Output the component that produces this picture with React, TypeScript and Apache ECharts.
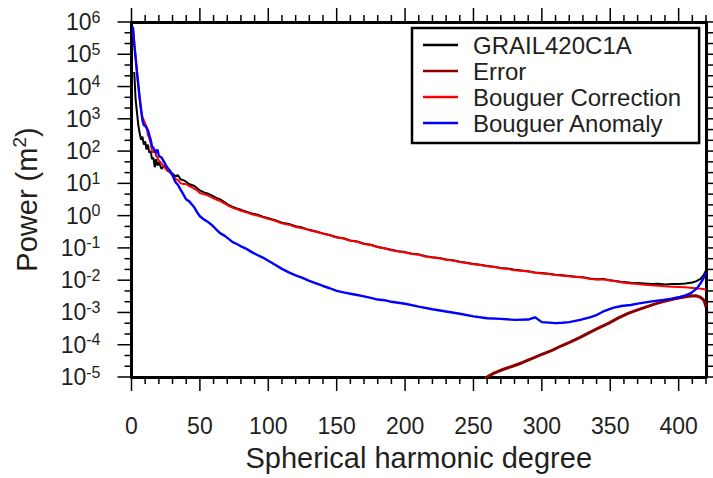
import React, { useEffect, useRef } from "react";
import * as echarts from "echarts";

const FONT = '"Liberation Sans", Helvetica, Arial, sans-serif';
const INK = "#231f20";

// Axis ranges and tick values (power axis is drawn in log10 units)
const degreeRange = [0, 420];
const degreeStep = 50;
const degreeTicks = [0, 50, 100, 150, 200, 250, 300, 350, 400];
const degreeMinorTicks = [
  10, 20, 30, 40, 60, 70, 80, 90, 110, 120, 130, 140, 160, 170, 180, 190, 210, 220, 230, 240,
  260, 270, 280, 290, 310, 320, 330, 340, 360, 370, 380, 390, 410, 420,
];
const powerRange = [-5, 6];
const powerStep = 1;
const powerExponents = [-5, -4, -3, -2, -1, 0, 1, 2, 3, 4, 5, 6];
const powerMinorOffsets = [1 / 3, 2 / 3];

const seriesNames = ["GRAIL420C1A", "Error", "Bouguer Correction", "Bouguer Anomaly"];
const seriesColors = ["#000000", "#8b0000", "#ff0000", "#0000ff"];

// [degree, log10 power (m^2)]
const grailSpectrum: [number, number][] = [
  [2, 4.45], [3, 3.6], [4, 3.2], [5, 2.8], [6, 2.55], [7, 2.35], [8, 2.45], [9, 2.2], [10, 2.3],
  [11, 2.05], [12, 2.2], [13, 1.95], [14, 2.0], [15, 1.75], [16, 1.8], [17, 1.5], [18, 1.75],
  [19, 1.55], [20, 1.65], [22, 1.45], [24, 1.55], [26, 1.4], [28, 1.35], [30, 1.3], [32, 1.22],
  [34, 1.25], [36, 1.12], [38, 1.1], [40, 1.05], [42, 0.98], [44, 0.95], [46, 0.92], [48, 0.85],
  [50, 0.78], [53, 0.72], [56, 0.68], [59, 0.62], [62, 0.55], [65, 0.5], [68, 0.42], [71, 0.33],
  [74, 0.27], [77, 0.22], [80, 0.18], [84, 0.12], [88, 0.07], [92, 0.03], [96, -0.03],
  [100, -0.08], [105, -0.14], [110, -0.22], [115, -0.26], [120, -0.33], [125, -0.37],
  [130, -0.44], [135, -0.49], [140, -0.55], [145, -0.6], [150, -0.67], [155, -0.7], [160, -0.77],
  [165, -0.8], [170, -0.87], [175, -0.9], [180, -0.97], [185, -1.01], [190, -1.06], [195, -1.1],
  [200, -1.13], [205, -1.18], [210, -1.2], [215, -1.26], [220, -1.29], [225, -1.31], [230, -1.36],
  [235, -1.38], [240, -1.43], [245, -1.46], [250, -1.5], [255, -1.52], [260, -1.56], [265, -1.58],
  [270, -1.62], [275, -1.64], [280, -1.68], [285, -1.7], [290, -1.72], [295, -1.76], [300, -1.78],
  [305, -1.8], [310, -1.83], [315, -1.85], [320, -1.87], [325, -1.89], [330, -1.91], [335, -1.95],
  [340, -1.97], [345, -1.96], [350, -2.0], [355, -2.03], [360, -2.06], [365, -2.08], [370, -2.09],
  [375, -2.1], [380, -2.12], [385, -2.11], [390, -2.13], [395, -2.12], [400, -2.12], [405, -2.1],
  [410, -2.07], [413, -2.03], [416, -1.96], [418, -1.86], [420, -1.7],
];

const errorSpectrum: [number, number][] = [
  [258, -5.05], [265, -4.88], [272, -4.76], [279, -4.66], [286, -4.55], [293, -4.42],
  [300, -4.3], [307, -4.18], [314, -4.04], [321, -3.91], [328, -3.77], [335, -3.62],
  [342, -3.47], [349, -3.33], [356, -3.17], [363, -3.03], [370, -2.92], [377, -2.82],
  [384, -2.72], [391, -2.64], [398, -2.57], [404, -2.52], [409, -2.49], [412, -2.48],
  [414, -2.5], [416, -2.53], [418, -2.6], [419, -2.68], [420, -2.83],
];

const correctionSpectrum: [number, number][] = [
  [1, 5.85], [2, 5.4], [3, 4.9], [4, 4.45], [5, 4.0], [6, 3.6], [7, 3.25], [8, 3.05], [9, 2.95],
  [10, 2.85], [11, 2.75], [12, 2.5], [13, 2.4], [14, 2.25], [15, 2.0], [16, 1.95], [17, 2.05],
  [18, 1.85], [19, 1.8], [20, 1.7], [22, 1.62], [24, 1.5], [26, 1.42], [28, 1.35], [30, 1.25],
  [32, 1.15], [34, 1.1], [36, 1.0], [38, 0.98], [40, 0.98], [42, 0.92], [44, 0.88], [46, 0.83],
  [48, 0.78], [50, 0.7], [53, 0.66], [56, 0.62], [59, 0.56], [62, 0.5], [65, 0.45], [68, 0.38],
  [71, 0.3], [74, 0.24], [77, 0.2], [80, 0.15], [84, 0.1], [88, 0.04], [92, 0.0], [96, -0.05],
  [100, -0.1], [105, -0.16], [110, -0.24], [115, -0.28], [120, -0.35], [125, -0.39],
  [130, -0.45], [135, -0.5], [140, -0.56], [145, -0.61], [150, -0.68], [155, -0.71], [160, -0.78],
  [165, -0.81], [170, -0.88], [175, -0.91], [180, -0.97], [185, -1.02], [190, -1.07], [195, -1.11],
  [200, -1.14], [205, -1.19], [210, -1.21], [215, -1.27], [220, -1.3], [225, -1.32], [230, -1.37],
  [235, -1.39], [240, -1.44], [245, -1.47], [250, -1.51], [255, -1.53], [260, -1.57], [265, -1.59],
  [270, -1.63], [275, -1.65], [280, -1.69], [285, -1.71], [290, -1.73], [295, -1.77], [300, -1.79],
  [305, -1.81], [310, -1.84], [315, -1.86], [320, -1.88], [325, -1.9], [330, -1.92], [335, -1.96],
  [340, -1.98], [345, -1.98], [350, -2.01], [355, -2.04], [360, -2.08], [365, -2.1], [370, -2.12],
  [375, -2.14], [380, -2.16], [385, -2.17], [390, -2.19], [395, -2.2], [400, -2.21], [405, -2.22],
  [410, -2.24], [415, -2.26], [418, -2.27], [420, -2.31],
];

const anomalySpectrum: [number, number][] = [
  [1, 5.85], [2, 5.3], [3, 4.9], [4, 4.45], [5, 4.05], [6, 3.65], [7, 3.3], [8, 2.95], [9, 2.8],
  [10, 2.78], [11, 2.72], [12, 2.65], [13, 2.5], [14, 2.35], [15, 2.15], [16, 2.1], [17, 2.0],
  [18, 1.95], [19, 2.05], [20, 1.85], [22, 1.8], [24, 1.65], [26, 1.5], [28, 1.4], [30, 1.25],
  [32, 1.05], [34, 0.95], [36, 0.8], [38, 0.65], [40, 0.5], [42, 0.45], [44, 0.35], [46, 0.25],
  [48, 0.1], [50, -0.02], [53, -0.12], [56, -0.2], [59, -0.3], [62, -0.43], [65, -0.55],
  [68, -0.62], [71, -0.72], [74, -0.82], [77, -0.88], [80, -0.95], [84, -1.03], [88, -1.13],
  [92, -1.22], [96, -1.3], [100, -1.4], [105, -1.52], [110, -1.65], [115, -1.76], [120, -1.85],
  [125, -1.93], [130, -2.02], [135, -2.1], [140, -2.18], [145, -2.25], [150, -2.33], [155, -2.38],
  [160, -2.42], [165, -2.46], [170, -2.5], [175, -2.55], [180, -2.6], [185, -2.62], [190, -2.67],
  [195, -2.7], [200, -2.73], [210, -2.82], [220, -2.9], [230, -2.97], [240, -3.04], [250, -3.12],
  [260, -3.18], [270, -3.2], [280, -3.23], [290, -3.22], [295, -3.15], [300, -3.3], [310, -3.33],
  [315, -3.32], [320, -3.3], [328, -3.23], [335, -3.15], [340, -3.08], [345, -2.97], [352, -2.86],
  [358, -2.8], [365, -2.77], [371, -2.72], [377, -2.68], [383, -2.64], [389, -2.61], [395, -2.57],
  [401, -2.52], [405, -2.47], [409, -2.4], [412, -2.3], [414, -2.22], [416, -2.1], [418, -1.95],
  [420, -1.78],
];

const seriesData = [grailSpectrum, errorSpectrum, correctionSpectrum, anomalySpectrum];
const seriesWidths = [2, 3, 2, 2.4];

// Frame ticks: [degree, log10 power, tick length, side]; side 0 bottom, 1 top, 2 left, 3 right
const MAJOR = 14;
const MINOR = 7;
const frameTicks: number[][] = [];
[0, 1].forEach((side) => {
  const edge = side === 0 ? powerRange[0] : powerRange[1];
  degreeTicks.forEach((d) => frameTicks.push([d, edge, MAJOR, side]));
  degreeMinorTicks.forEach((d) => frameTicks.push([d, edge, MINOR, side]));
});
[2, 3].forEach((side) => {
  const edge = side === 2 ? degreeRange[0] : degreeRange[1];
  powerExponents.forEach((e, i) => {
    frameTicks.push([edge, e, MAJOR, side]);
    if (i < powerExponents.length - 1) {
      powerMinorOffsets.forEach((o) => frameTicks.push([edge, e + o, MINOR, side]));
    }
  });
});

const frameLine = { show: true, onZero: false, lineStyle: { color: "#000", width: 3 } };

function degreeAxis(position: "top" | "bottom", labelled: boolean) {
  return {
    type: "value",
    position,
    min: degreeRange[0],
    max: degreeRange[1],
    interval: degreeStep,
    axisLine: frameLine,
    axisTick: { show: false },
    minorTick: { show: false },
    axisLabel: labelled
      ? { show: true, showMaxLabel: false, margin: 37, fontSize: 23, fontFamily: FONT, color: INK }
      : { show: false },
    splitLine: { show: false },
  };
}

function powerAxis(position: "left" | "right", labelled: boolean) {
  return {
    type: "value",
    position,
    min: powerRange[0],
    max: powerRange[1],
    interval: powerStep,
    axisLine: frameLine,
    axisTick: { show: false },
    minorTick: { show: false },
    axisLabel: labelled
      ? {
          show: true,
          margin: 31,
          formatter: (v: number) => `{b|10}{s|${v}}`,
          rich: {
            b: { fontSize: 23, fontFamily: FONT, color: INK, lineHeight: 26 },
            s: { fontSize: 16, fontFamily: FONT, color: INK, verticalAlign: "top", lineHeight: 16 },
          },
        }
      : { show: false },
    splitLine: { show: false },
  };
}

export default function App() {
  const ref = useRef<HTMLDivElement>(null);

  useEffect(() => {
    if (!ref.current) return;
    const chart = echarts.init(ref.current, undefined, { renderer: "svg" });

    const bottomAxis: any = degreeAxis("bottom", true);
    bottomAxis.name = "Spherical harmonic degree";
    bottomAxis.nameLocation = "middle";
    bottomAxis.nameGap = 66;
    bottomAxis.nameTextStyle = { fontSize: 29, fontFamily: FONT, color: INK };

    const leftAxis: any = powerAxis("left", true);
    leftAxis.name = "{a|Power (m}{s|2}{a|)}";
    leftAxis.nameLocation = "middle";
    leftAxis.nameGap = 88;
    leftAxis.nameTextStyle = {
      rich: {
        a: { fontSize: 29, fontFamily: FONT, color: INK, lineHeight: 34 },
        s: { fontSize: 19, fontFamily: FONT, color: INK, verticalAlign: "top", lineHeight: 20 },
      },
    };

    const tickSeries = {
      type: "custom",
      xAxisIndex: 0,
      yAxisIndex: 0,
      clip: false,
      silent: true,
      z: 5,
      data: frameTicks,
      renderItem: (_params: any, api: any) => {
        const p = api.coord([api.value(0), api.value(1)]);
        const len = api.value(2);
        const side = api.value(3);
        const end =
          side === 0 ? [p[0], p[1] + len] : side === 1 ? [p[0], p[1] - len] : side === 2 ? [p[0] - len, p[1]] : [p[0] + len, p[1]];
        return {
          type: "line",
          shape: { x1: p[0], y1: p[1], x2: end[0], y2: end[1] },
          style: { stroke: "#000", lineWidth: 1.5 },
        };
      },
    };

    chart.setOption({
      animation: false,
      backgroundColor: "#ffffff",
      grid: { left: 131.5, top: 22, width: 574.5, height: 355, containLabel: false, outerBoundsMode: "none" },
      xAxis: [bottomAxis, degreeAxis("top", false)],
      yAxis: [leftAxis, powerAxis("right", false)],
      legend: {
        orient: "vertical",
        left: 412,
        top: 28,
        padding: [5, 18, 8, 11],
        itemGap: 2,
        itemWidth: 35,
        itemHeight: 2.5,
        icon: "rect",
        backgroundColor: "#ffffff",
        borderColor: "#000",
        borderWidth: 2.5,
        borderRadius: 0,
        textStyle: {
          fontSize: 24,
          fontFamily: FONT,
          color: INK,
          lineHeight: 24,
          padding: [0, 0, 0, 10],
        },
        data: seriesNames,
      },
      series: [
        ...seriesNames.map((name, i) => ({
          name,
          type: "line",
          xAxisIndex: 0,
          yAxisIndex: 0,
          symbol: "none",
          clip: true,
          data: seriesData[i],
          lineStyle: { color: seriesColors[i], width: seriesWidths[i] },
          itemStyle: { color: seriesColors[i] },
          emphasis: { disabled: true },
        })),
        tickSeries,
      ],
    });

    return () => chart.dispose();
  }, []);

  return (
    <div
      ref={ref}
      style={{ position: "fixed", left: 0, top: 0, width: 713, height: 478, background: "#fff" }}
    />
  );
}
